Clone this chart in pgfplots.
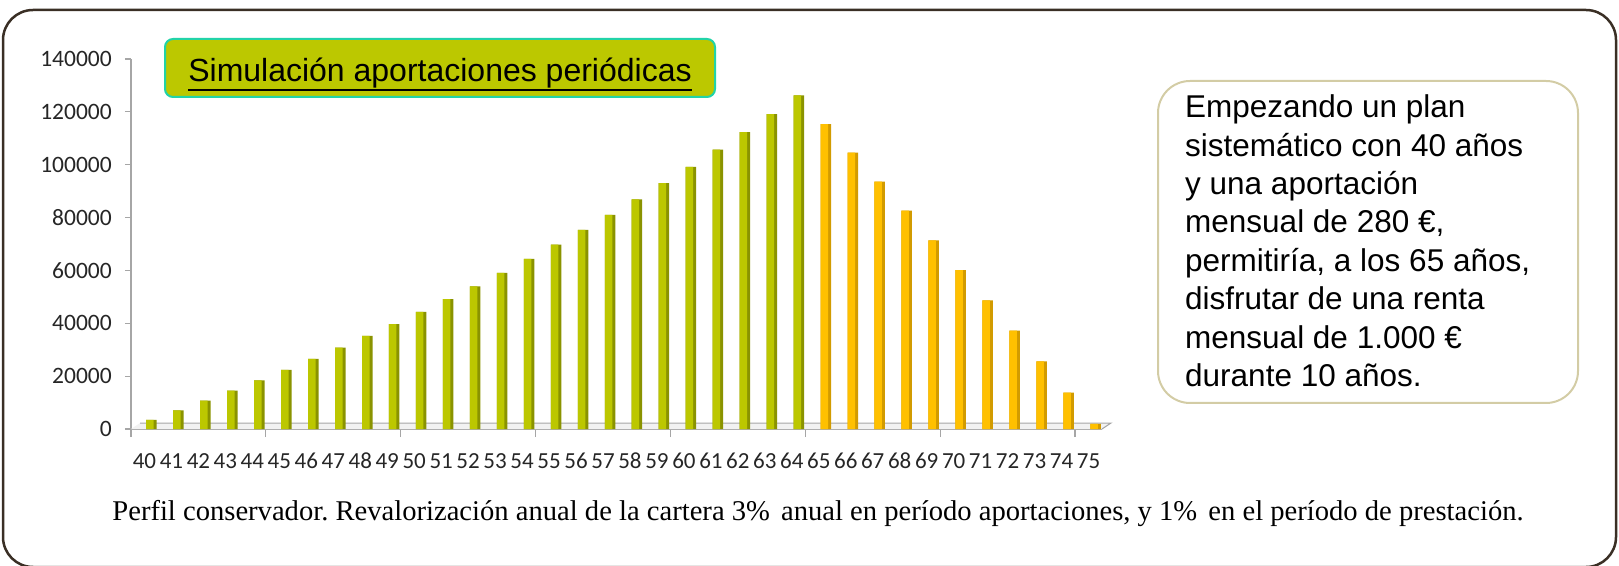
\documentclass[border=0pt]{standalone}
\usepackage{pgfplots}
\pgfplotsset{compat=1.18}
\usepackage{pgfplotstable}
\usepackage{fontspec}
\setmainfont{Liberation Serif}
\newfontfamily\arial{Liberation Sans}
\newfontfamily\calibri{Carlito}
\frenchspacing
\definecolor{barG}{HTML}{BCC700}
\definecolor{barGd}{HTML}{8A9300}
\definecolor{barY}{HTML}{FFC000}
\definecolor{barYd}{HTML}{D29B00}
\definecolor{frameC}{HTML}{3A2F25}
\definecolor{titleFill}{HTML}{BCC800}
\definecolor{titleBorder}{HTML}{22D3A8}
\definecolor{boxBorder}{HTML}{D3CCA5}
\definecolor{axisC}{HTML}{A6A6A6}

\pgfplotstableread{
age val
40 3500
41 7000
42 10700
43 14500
44 18400
45 22400
46 26500
47 30800
48 35200
49 39700
50 44300
51 49100
52 54000
53 59100
54 64400
55 69800
56 75300
57 81000
58 86900
59 93000
60 99200
61 105700
62 112300
63 119100
64 126200
}\accum
\pgfplotstableread{
age val
65 115400
66 104600
67 93600
68 82600
69 71400
70 60100
71 48700
72 37200
73 25600
74 13800
75 1900
}\payout

\begin{document}
\begin{tikzpicture}[x=1pt,y=1pt]
\path[use as bounding box] (0,0) rectangle (1619,565);
\draw[frameC, line width=2.5pt, rounded corners=30pt] (3,-2) rectangle (1616,555);

\begin{axis}[
  at={(131pt,136pt)}, anchor=south west,
  scale only axis, width=971pt, height=370pt,
  xmin=39.5, xmax=75.5, ymin=0, ymax=140000,
  clip=false,
  scaled y ticks=false,
  axis x line*=bottom, axis y line*=left,
  axis line style={axisC, line width=1.2pt},
  /pgf/number format/assume math mode=true,
  ytick={0,20000,40000,60000,80000,100000,120000,140000},
  yticklabels={0,20000,40000,60000,80000,100000,120000,140000},
  xtick={40,...,75},
  minor xtick={39.5,44.5,...,74.5},
  major tick length=6pt, minor tick length=8pt,
  tick align=outside,
  major x tick style={draw=none},
  minor x tick style={axisC, line width=1.2pt},
  y tick style={axisC, line width=1.2pt},
  yticklabel style={font=\calibri\fontsize{23.5}{23.5}\selectfont, text=black!85, anchor=east, inner sep=0pt, xshift=-13pt},
  xticklabel style={font=\calibri\fontsize{23}{23}\selectfont, text=black!85, anchor=base, inner sep=0pt, yshift=-33pt},
]
\fill[gray!10] (axis cs:39.5,0) -- (axis cs:75.5,0) -- ([shift={(9pt,6pt)}]axis cs:75.5,0) -- ([shift={(9pt,6pt)}]axis cs:39.5,0) -- cycle;
\draw[axisC, line width=1pt] ([shift={(9pt,6pt)}]axis cs:39.5,0) -- ([shift={(9pt,6pt)}]axis cs:75.5,0) -- (axis cs:75.5,0);

\addplot[ybar, bar width=10.5pt, bar shift=7pt, fill=barGd, draw=none] table[x=age,y=val]{\accum};
\addplot[ybar, bar width=7.5pt, bar shift=5.5pt, fill=barG, draw=none] table[x=age,y=val]{\accum};
\addplot[ybar, bar width=10.5pt, bar shift=7pt, fill=barYd, draw=none] table[x=age,y=val]{\payout};
\addplot[ybar, bar width=7.5pt, bar shift=5.5pt, fill=barY, draw=none] table[x=age,y=val]{\payout};
\end{axis}

% title box
\draw[titleBorder, line width=2pt, fill=titleFill, rounded corners=8pt] (165,468) rectangle (715,526);
\node[anchor=base, inner sep=0pt, font=\arial\fontsize{32}{32}\selectfont] (T) at (440,483) {Simulación aportaciones periódicas};
\draw[line width=1.8pt] ([yshift=-8pt]T.base west) -- ([yshift=-8pt]T.base east);

% text box
\draw[boxBorder, line width=2pt, rounded corners=32pt] (1158,162) rectangle (1578,484);
\begin{scope}[every node/.style={anchor=base west, inner sep=0pt, font=\arial\fontsize{31.5}{31.5}\selectfont}]
\node at (1185,447.3) {Empezando un plan};
\node at (1185,408.9) {sistemático con 40 años};
\node at (1185,370.5) {y una aportación};
\node at (1185,332.1) {mensual de 280 €,};
\node at (1185,293.7) {permitiría, a los 65 años,};
\node at (1185,255.3) {disfrutar de una renta};
\node at (1185,216.9) {mensual de 1.000 €};
\node at (1185,178.5) {durante 10 años.};
\end{scope}

% caption
\node[anchor=base, inner sep=0pt, font=\fontsize{28.6}{28.6}\selectfont] at (818,45) {Perfil conservador. Revalorización anual de la cartera 3\%\hspace{4pt} anual en período aportaciones, y 1\%\hspace{4pt} en el período de prestación.};
\end{tikzpicture}
\end{document}
